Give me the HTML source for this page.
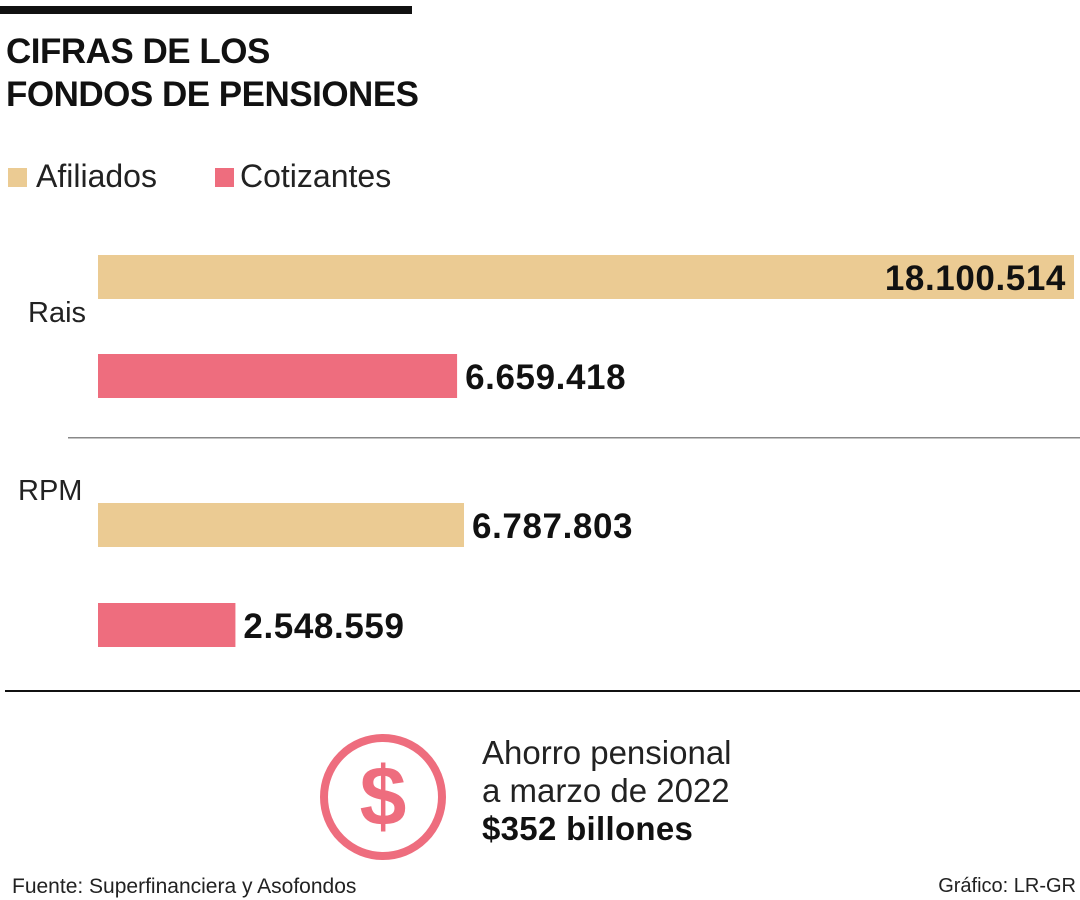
<!DOCTYPE html>
<html><head><meta charset="utf-8"><style>
body{margin:0;width:1080px;height:900px;background:#fff;font-family:"Liberation Sans",sans-serif;position:relative;overflow:hidden;color:#111}
.a{position:absolute}
</style></head><body>
<div class="a" style="left:0;top:6px;width:412px;height:8px;background:#111"></div>
<div class="a" style="left:6px;top:30px;font-size:35px;font-weight:bold;line-height:43px;letter-spacing:-0.5px">CIFRAS DE LOS<br>FONDOS DE PENSIONES</div>
<div class="a" style="left:8px;top:158px;font-size:32px;color:#222"><span style="display:inline-block;width:19px;height:19px;background:#ebcb93;margin-right:9px"></span>Afiliados</div>
<div class="a" style="left:215px;top:158px;font-size:32px;color:#222"><span style="display:inline-block;width:19px;height:19px;background:#ee6d7e;margin-right:6px"></span>Cotizantes</div>
<svg class="a" style="left:0;top:0" width="1080" height="900" id="chart"></svg>
<div class="a" style="left:5px;top:690px;width:1075px;height:2px;background:#111"></div>
<svg class="a" style="left:318px;top:732px" width="130" height="130">
<circle cx="65" cy="65" r="59" fill="none" stroke="#ee6d7e" stroke-width="8"/>
<text x="65" y="93" text-anchor="middle" font-size="84" font-weight="bold" fill="#ee6d7e" font-family="Liberation Sans">$</text>
</svg>
<div class="a" style="left:482px;top:734px;font-size:33px;line-height:38px;color:#222">Ahorro pensional<br>a marzo de 2022<br><b style="color:#111;letter-spacing:0.3px">$352 billones</b></div>
<div class="a" style="left:12px;top:875px;font-size:21px;color:#222">Fuente: Superfinanciera y Asofondos</div>
<div class="a" style="right:4px;top:875px;font-size:20px;color:#222">Gráfico: LR-GR</div>
<script>
const groups=["Rais","RPM"];
const afiliados=[18100514,6787803];
const cotizantes=[6659418,2548559];
const labels=["18.100.514","6.659.418","6.787.803","2.548.559"];
const svg=document.getElementById('chart');
const NS="http://www.w3.org/2000/svg";
const x0=98,x1=1074,maxV=18100514;
const xs=v=>(v/maxV)*(x1-x0);
function mk(t,a){const e=document.createElementNS(NS,t);for(const k in a)e.setAttribute(k,a[k]);svg.appendChild(e);return e;}
const gTop=[255,503],gLab=[322,500];
groups.forEach((g,i)=>{
  const t=mk('text',{x:i==0?28:18,y:gLab[i],'font-size':29,fill:'#222'});t.textContent=g;
  
  
  [[afiliados[i],'#ebcb93','afiliados'],[cotizantes[i],'#ee6d7e','cotizantes']].forEach((s,j)=>{
    const y=gTop[i]+j*(i==0?99:100);const w=xs(s[0]);
    const r=mk('rect',{x:x0,y:y,width:w,height:44,fill:s[1]});
    
    
    const inside=w>900;
    const tx=mk('text',{x:inside?x0+w-8:x0+w+8,y:y+35,'font-size':35,'font-weight':'bold',fill:'#111','letter-spacing':'0.6','text-anchor':inside?'end':'start'});
    tx.textContent=labels[i*2+j];
    
    
  });
});
const sep=mk('rect',{x:68,y:437,width:1012,height:1.5,fill:'#888'});


</script>
</body></html>
